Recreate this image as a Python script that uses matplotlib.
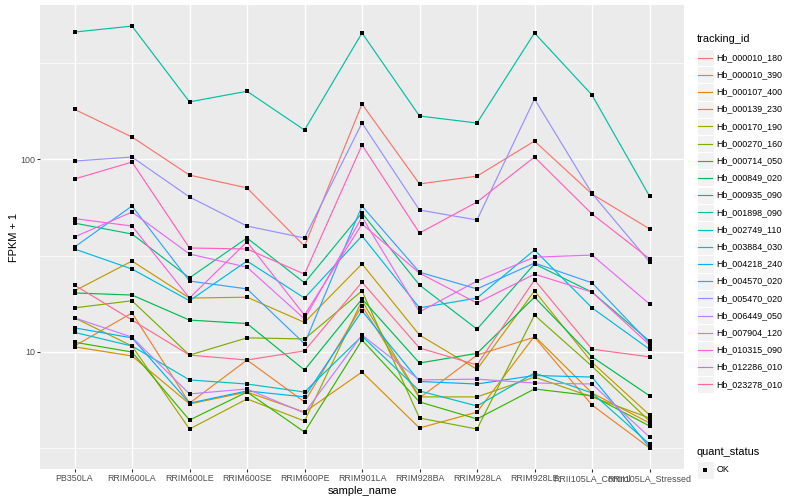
import numpy as np
import matplotlib
matplotlib.use('Agg')
import matplotlib.pyplot as plt
from matplotlib.patches import Rectangle
from matplotlib.ticker import FixedLocator, NullLocator, NullFormatter

plt.rcParams['font.family'] = ['Liberation Sans', 'DejaVu Sans']

samples = ['PB350LA', 'RRIM600LA', 'RRIM600LE', 'RRIM600SE', 'RRIM600PE', 'RRIM901LA',
           'RRIM928BA', 'RRIM928LA', 'RRIM928LE', 'RRII105LA_Control', 'RRII105LA_Stressed']

tracking_ids = ['Hb_000010_180', 'Hb_000010_390', 'Hb_000107_400', 'Hb_000139_230',
                'Hb_000170_190', 'Hb_000270_160', 'Hb_000714_050', 'Hb_000849_020',
                'Hb_000935_090', 'Hb_001898_090', 'Hb_002749_110', 'Hb_003884_030',
                'Hb_004218_240', 'Hb_004570_020', 'Hb_005470_020', 'Hb_006449_050',
                'Hb_007904_120', 'Hb_010315_090', 'Hb_012286_010', 'Hb_023278_010']

# FPKM + 1, one list per gene, in sample order
hb_000010_180 = [182, 130.6, 82.8, 71, 35.4, 194, 74.5, 81.8, 124.5, 66, 43.5]
hb_000010_390 = [10.7, 15.9, 5.4, 9.05, 5.48, 17.3, 5.75, 9.6, 11.9, 5.28, 3.16]
hb_000107_400 = [10.6, 9.5, 5.35, 6.17, 4.85, 7.84, 4.01, 4.85, 12.05, 6.1, 4.26]
hb_000139_230 = [20.7, 29.6, 19.0, 19.2, 14.2, 28.6, 12.2, 8.1, 20.7, 8.8, 4.69]
hb_000170_190 = [15.0, 10.7, 3.96, 5.68, 4.36, 18.4, 5.82, 5.82, 7.38, 5.82, 4.52]
hb_000270_160 = [16.9, 18.4, 9.6, 11.8, 11.65, 20.7, 4.52, 3.96, 15.5, 8.4, 4.36]
hb_000714_050 = [11.2, 9.96, 4.41, 6.17, 3.82, 11.5, 5.48, 4.47, 6.4, 5.9, 4.11]
hb_000849_020 = [20.2, 19.7, 14.6, 14.0, 8.03, 18.8, 8.73, 9.8, 19.2, 9.4, 5.9]
hb_000935_090 = [46.6, 40.9, 24.2, 39, 22.8, 52.6, 22.2, 13.1, 28.6, 20.4, 11.35]
hb_001898_090 = [459, 493, 199, 226, 142, 454, 168, 154.5, 454, 216, 64.4]
hb_002749_110 = [12.6, 10.7, 7.13, 6.79, 6.17, 12.05, 6.25, 5.22, 7.75, 6.1, 3.31]
hb_003884_030 = [34.2, 26.9, 18.4, 29.6, 19.0, 40, 16.9, 19.0, 33.8, 16.9, 10.3]
hb_004218_240 = [13.3, 11.8, 5.4, 6.25, 5.82, 16.3, 7.0, 6.79, 7.52, 7.38, 3.19]
hb_004570_020 = [35, 57.2, 23.3, 21.2, 11.0, 57.2, 25.9, 21.2, 28.9, 22.8, 11.1]
hb_005470_020 = [98, 102.8, 63.7, 45, 39, 154.5, 54.5, 48.4, 206, 66.5, 29.3]
hb_006449_050 = [15.0, 11.9, 6.03, 6.4, 4.8, 12.2, 7.13, 7.2, 6.87, 6.79, 3.6]
hb_007904_120 = [39.5, 53.2, 32.2, 27.5, 14.8, 50.1, 16.1, 23.3, 31, 31.8, 17.7]
hb_010315_090 = [49.2, 45, 19.0, 37.2, 15.5, 46.1, 25.6, 17.9, 25.3, 20.4, 10.85]
hb_012286_010 = [79, 96.8, 34.6, 34.2, 25.3, 118.6, 41.4, 60, 102.8, 52, 30.4]
hb_023278_010 = [22.2, 14.6, 9.6, 9.05, 10.1, 23, 10.45, 8.53, 23.6, 10.3, 9.4]

series = [hb_000010_180, hb_000010_390, hb_000107_400, hb_000139_230, hb_000170_190,
          hb_000270_160, hb_000714_050, hb_000849_020, hb_000935_090, hb_001898_090,
          hb_002749_110, hb_003884_030, hb_004218_240, hb_004570_020, hb_005470_020,
          hb_006449_050, hb_007904_120, hb_010315_090, hb_012286_010, hb_023278_010]

# ggplot default hue palette for 20 groups
colors = ['#F8766D', '#EA8331', '#D89000', '#C09B00', '#A3A500', '#7CAE00', '#39B600',
          '#00BB4E', '#00BF7D', '#00C1A3', '#00BFC4', '#00BAE0', '#00B0F6', '#35A2FF',
          '#9590FF', '#C77CFF', '#E76BF3', '#FA62DB', '#FF62BC', '#FF6C91']

W, H = 800, 500
fig = plt.figure(figsize=(8, 5), dpi=100)
fig.patch.set_facecolor('white')

# panel
ax = fig.add_axes([40 / W, 1 - 469 / H, 644 / W, 464 / H])
ax.set_facecolor('#EBEBEB')
for s in ax.spines.values():
    s.set_visible(False)

x = np.arange(len(samples))
for vals, col in zip(series, colors):
    ax.plot(x, vals, color=col, lw=0.85, zorder=2, solid_capstyle='butt')
for vals in series:
    ax.plot(x, vals, 's', color='black', ms=2.6, mew=0, zorder=3)

ax.set_yscale('log')
allv = np.log10(np.concatenate([np.array(v, dtype=float) for v in series]))
lo, hi = allv.min(), allv.max()
pad = 0.05 * (hi - lo)
ax.set_ylim(10 ** (lo - pad), 10 ** (hi + pad))
ax.set_xlim(-0.6, len(samples) - 0.4)

ax.yaxis.set_major_locator(FixedLocator([10, 100]))
ax.yaxis.set_minor_locator(FixedLocator([10 ** 0.5, 10 ** 1.5, 10 ** 2.5]))
ax.yaxis.set_minor_formatter(NullFormatter())
ax.set_yticklabels(['10', '100'])
ax.xaxis.set_minor_locator(NullLocator())
ax.set_xticks(x)
ax.set_xticklabels(samples)

ax.set_axisbelow(True)
ax.grid(which='major', color='white', lw=1.0)
ax.grid(which='minor', axis='y', color='white', lw=0.5)
ax.tick_params(which='major', length=2.0, width=0.8, color='#333333',
               labelsize=6.4, labelcolor='#4D4D4D', pad=1.6)
ax.tick_params(which='minor', length=0)

ax.set_xlabel('sample_name', fontsize=7.9, color='black', labelpad=2)
ax.set_ylabel('FPKM + 1', fontsize=7.9, color='black', labelpad=1)

# legends, drawn in pixel coordinates
lg = fig.add_axes([0, 0, 1, 1], facecolor='none')
lg.set_xlim(0, W)
lg.set_ylim(H, 0)
lg.axis('off')

key = 17.2
kx = 696.7
lg.text(kx, 39.5, 'tracking_id', fontsize=7.9, va='center', ha='left')
for i, (name, col) in enumerate(zip(tracking_ids, colors)):
    cy = 57.5 + i * key
    lg.add_patch(Rectangle((kx, cy - key / 2), key, key, facecolor='#F2F2F2',
                           edgecolor='white', lw=0.8))
    lg.plot([kx + 1.7, kx + key - 1.7], [cy, cy], color=col, lw=0.85)
    lg.text(716.7, cy, name, fontsize=6.4, va='center', ha='left')

lg.text(kx, 452, 'quant_status', fontsize=7.9, va='center', ha='left')
cy = 470
lg.add_patch(Rectangle((kx, cy - key / 2), key, key, facecolor='#F2F2F2',
                       edgecolor='white', lw=0.8))
lg.plot([kx + key / 2], [cy], 's', color='black', ms=2.6, mew=0)
lg.text(716.7, cy, 'OK', fontsize=6.4, va='center', ha='left')

fig.savefig('out.png', dpi=100)
